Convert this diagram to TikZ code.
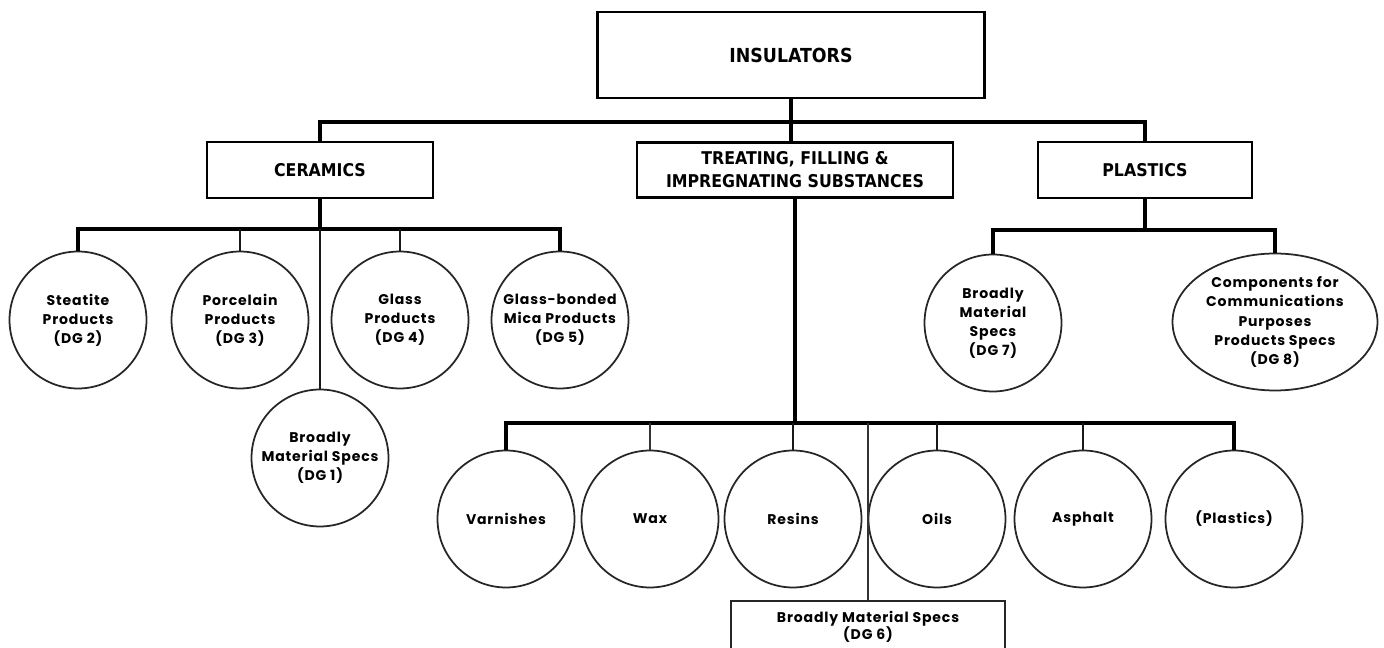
\documentclass[tikz,border=0pt]{standalone}
\usepackage{fontspec}
\usepackage{tikz}
\usetikzlibrary{shapes.geometric, positioning, calc}
\newfontfamily\hdrfont{DejaVu Sans Condensed}
\newfontfamily\circfont{Poppins}[LetterSpace=6]
\tikzset{
  hdr/.style    = {rectangle, draw=black, line width=1.6pt, align=center,
                   font=\hdrfont\bfseries\fontsize{10}{13}\selectfont, inner sep=0pt},
  spec/.style   = {circle, draw=black!85, line width=1pt, minimum size=2.74cm,
                   align=center, font=\circfont\bfseries\fontsize{8}{10.9}\selectfont,
                   inner sep=0pt},
  specbox/.style= {rectangle, draw=black!85, line width=1pt, align=center,
                   minimum width=5.48cm, minimum height=1.04cm,
                   font=\circfont\bfseries\fontsize{8}{10}\selectfont, inner sep=0pt},
  bus/.style    = {draw=black, line width=2.8pt},
  drop/.style   = {draw=black!90, line width=1.5pt},
  fine/.style   = {draw=black!80, line width=0.8pt}
}
\begin{document}
\begin{tikzpicture}[x=0.02cm, y=-0.02cm]
  \useasboundingbox (0,0) rectangle (1384,648);
  % group boxes
  \node[hdr, minimum width=7.74cm, minimum height=1.72cm, font=\hdrfont\bfseries\fontsize{11}{13}\selectfont]
        (ins) at (791,55) {INSULATORS};
  \node[hdr, minimum width=4.52cm, minimum height=1.12cm] (cer) at (320,170) {CERAMICS};
  \node[hdr, minimum width=6.32cm, minimum height=1.10cm] (tre) at (795,170)
        {TREATING, FILLING \&\\IMPREGNATING SUBSTANCES};
  \node[hdr, minimum width=4.28cm, minimum height=1.12cm] (pla) at (1145,170) {PLASTICS};
  % ceramics
  \node[spec] (ste) at (78,320)  {Steatite\\Products\\(DG 2)};
  \node[spec] (por) at (240,320) {Porcelain\\Products\\(DG 3)};
  \node[spec] (gla) at (400,320) {Glass\\Products\\(DG 4)};
  \node[spec] (gbm) at (560,320) {Glass-bonded\\Mica Products\\(DG 5)};
  \node[spec] (dg1) at (320,458) {Broadly\\Material Specs\\(DG 1)};
  % plastics
  \node[spec] (dg7) at (993,323) {Broadly\\Material\\Specs\\(DG 7)};
  \node[spec, ellipse, minimum width=4.1cm, minimum height=2.74cm] (dg8) at (1275,322)
        {Components for\\Communications\\Purposes\\Products Specs\\(DG 8)};
  % treating substances
  \node[spec] (var) at (506,519)  {Varnishes};
  \node[spec] (wax) at (650,519)  {Wax};
  \node[spec] (res) at (793,519)  {Resins};
  \node[spec] (oil) at (937,519)  {Oils};
  \node[spec] (asp) at (1083,519) {Asphalt};
  \node[spec] (pls) at (1234,519) {(Plastics)};
  \node[specbox] (dg6) at (868,627) {Broadly Material Specs\\(DG 6)};

  \coordinate (topbus) at (0,122);
  \coordinate (cbus)   at (0,229);
  \coordinate (pbus)   at (0,230);
  \coordinate (tbus)   at (0,423);

  \draw[bus] (ins.south) -- (ins.south |- tre.north);
  \draw[bus] (cer.north) -- (cer.north |- topbus) -- (pla.north |- topbus) -- (pla.north);
  % ceramics branch
  \draw[bus] (cer.south) -- (cer.south |- cbus);
  \draw[bus] (ste.north) -- (ste.north |- cbus) -- (gbm.north |- cbus) -- (gbm.north);
  \draw[drop] (por.north |- cbus) -- (por.north);
  \draw[drop] (gla.north |- cbus) -- (gla.north);
  \draw[drop] (cer.south |- cbus) -- (dg1.north);
  % plastics branch
  \draw[bus] (pla.south) -- (pla.south |- pbus);
  \draw[bus] (dg7.north) -- (dg7.north |- pbus) -- (dg8.north |- pbus) -- (dg8.north);
  % treating branch
  \draw[bus] (tre.south) -- (tre.south |- tbus);
  \draw[bus] (var.north) -- (var.north |- tbus) -- (pls.north |- tbus) -- (pls.north);
  \draw[fine] (wax.north |- tbus) -- (wax.north);
  \draw[drop] (res.north |- tbus) -- (res.north);
  \draw[drop] (oil.north |- tbus) -- (oil.north);
  \draw[drop] (asp.north |- tbus) -- (asp.north);
  \draw[fine] (dg6.north |- tbus) -- (dg6.north);
\end{tikzpicture}
\end{document}
